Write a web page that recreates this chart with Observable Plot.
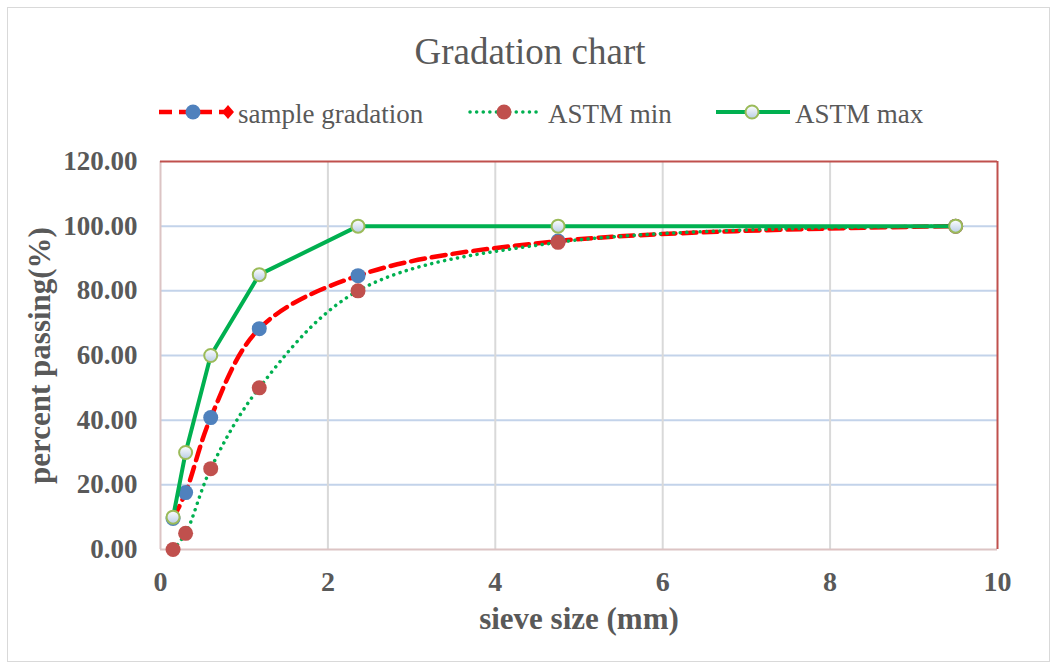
<!DOCTYPE html>
<html>
<head>
<meta charset="utf-8">
<script src="https://cdn.jsdelivr.net/npm/d3@7"></script>
<script src="https://cdn.jsdelivr.net/npm/@observablehq/plot@0.6"></script>
<style>
  body { margin: 0; background: #fff; }
  #wrap { position: relative; width: 1056px; height: 669px; color: #595959; overflow: hidden; }
  #border { position: absolute; left: 7px; top: 7px; width: 1043px; height: 655px; border: 1px solid #d9d9d9; box-sizing: border-box; pointer-events: none; z-index: 5; }
  #title { position: absolute; top: 33px; left: 0; width: 1060px; text-align: center; font-size: 37px; line-height: 37px; }
  .lg { position: absolute; top: 101px; font-size: 27px; line-height: 27px; white-space: nowrap; }
  .sw { position: absolute; top: 100px; }
  #chart { position: absolute; left: 0; top: 140px; }
</style>
</head>
<body>
<div id="wrap">
  <div id="border"></div>
  <div id="title"></div>
  <div id="legend"></div>
  <div id="chart"></div>
</div>
<script>
// ---- data ----
const title = "Gradation chart";
const seriesNames = ["sample gradation", "ASTM min", "ASTM max"];
const sieve = [0.15, 0.3, 0.6, 1.18, 2.36, 4.75, 9.5];
const sample = [9.6, 17.6, 40.8, 68.3, 84.7, 95.4, 100];
const astmMin = [0, 5, 25, 50, 80, 95, 100];
const astmMax = [10, 30, 60, 85, 100, 100, 100];
const xTicks = [0, 2, 4, 6, 8, 10];
const yTicks = [0, 20, 40, 60, 80, 100, 120];
const xLabel = "sieve size (mm)";
const yLabel = "percent passing(%)";

// ---- colours ----
const red = "#ff0000", green = "#00b050", blue = "#4f81bd", brick = "#c0504d", olive = "#9bbb59";
const font = '"Liberation Serif", "DejaVu Serif", serif';

document.getElementById("wrap").style.fontFamily = font;
const titleEl = document.getElementById("title");
titleEl.textContent = title;
titleEl.style.fontFamily = font;

// ---- legend (HTML) ----
const legend = document.getElementById("legend");
const items = [
  {left: 157, textLeft: 238, svg:
    `<svg width="80" height="24"><line x1="2" x2="74" y1="12" y2="12" stroke="${red}" stroke-width="4.5" stroke-dasharray="13 7"/>
     <circle cx="36" cy="12" r="7.5" fill="${blue}"/>
     <path d="M71,5 L77,12 L71,19 L65,12 Z" fill="${red}"/></svg>`},
  {left: 468, textLeft: 548, svg:
    `<svg width="76" height="24"><line x1="2" x2="72" y1="12" y2="12" stroke="${green}" stroke-width="3.5" stroke-linecap="round" stroke-dasharray="0.1 6.5"/>
     <circle cx="36" cy="12" r="7.5" fill="${brick}"/></svg>`},
  {left: 716, textLeft: 795, svg:
    `<svg width="76" height="24"><defs><linearGradient id="lgG" x1="0" y1="0" x2="0" y2="1"><stop offset="0" stop-color="#ffffff"/><stop offset="1" stop-color="#b9cde5"/></linearGradient></defs>
     <line x1="0" x2="74" y1="12" y2="12" stroke="${green}" stroke-width="4"/>
     <circle cx="36" cy="12" r="6.5" fill="url(#lgG)" stroke="${olive}" stroke-width="2"/></svg>`}
];
items.forEach((it, i) => {
  const s = document.createElement("div");
  s.className = "sw"; s.style.left = it.left + "px"; s.innerHTML = it.svg;
  legend.appendChild(s);
  const t = document.createElement("div");
  t.className = "lg"; t.style.left = it.textLeft + "px"; t.style.fontFamily = font;
  t.textContent = seriesNames[i];
  legend.appendChild(t);
});

// ---- chart ----
const chart = Plot.plot({
  width: 1056,
  height: 529,
  marginTop: 21,
  marginRight: 59,
  marginBottom: 120,
  marginLeft: 160,
  x: {domain: [0, 10]},
  y: {domain: [0, 120]},
  style: {fontFamily: font, background: "transparent", overflow: "visible"},
  marks: [
    Plot.ruleY(yTicks.filter(d => d > 0 && d < 120), {stroke: "#c3d3ea", strokeWidth: 2}),
    Plot.ruleX(xTicks.filter(d => d > 0 && d < 10), {stroke: "#d9d9d9", strokeWidth: 2}),
    Plot.ruleX([0], {stroke: "#dcc4c4", strokeWidth: 2}),
    Plot.ruleY([0], {stroke: "#dcc4c4", strokeWidth: 2}),
    Plot.ruleY([120], {stroke: brick, strokeWidth: 2}),
    Plot.ruleX([10], {stroke: brick, strokeWidth: 2}),
    Plot.axisX({ticks: xTicks, tickSize: 0, tickPadding: 22, fontSize: 28, fontWeight: "bold", color: "#595959", label: null}),
    Plot.axisY({ticks: yTicks, tickSize: 0, tickPadding: 23, tickFormat: d3.format(".2f"), fontSize: 27, fontWeight: "bold", color: "#595959", label: null}),
    Plot.text([xLabel], {text: d => d, frameAnchor: "bottom", textAnchor: "middle", dy: 79, fontSize: 31, fontWeight: "bold", fill: "#595959"}),
    Plot.text([yLabel], {text: d => d, frameAnchor: "left", textAnchor: "middle", dx: -120, rotate: -90, fontSize: 31, fontWeight: "bold", fill: "#595959"}),
    // sample gradation
    Plot.line(sample, {x: sieve, y: sample, curve: "catmull-rom", stroke: red, strokeWidth: 4.5, strokeDasharray: "14 7"}),
    Plot.dot(sample, {x: sieve, y: sample, r: 7.5, fill: blue}),
    // ASTM min
    Plot.line(astmMin, {x: sieve, y: astmMin, curve: "catmull-rom", stroke: green, strokeWidth: 3.5, strokeLinecap: "round", strokeDasharray: "0.1 6.5"}),
    Plot.dot(astmMin, {x: sieve, y: astmMin, r: 7.5, fill: brick}),
    // ASTM max
    Plot.line(astmMax, {x: sieve, y: astmMax, stroke: green, strokeWidth: 4}),
    Plot.dot(astmMax, {x: sieve, y: astmMax, r: 6.5, fill: "url(#maxGrad)", stroke: olive, strokeWidth: 2})
  ]
});
// gradient definition for the ASTM max markers
const ns = "http://www.w3.org/2000/svg";
const defs = document.createElementNS(ns, "defs");
defs.innerHTML = '<linearGradient id="maxGrad" x1="0" y1="0" x2="0" y2="1"><stop offset="0" stop-color="#ffffff"/><stop offset="1" stop-color="#b9cde5"/></linearGradient>';
chart.insertBefore(defs, chart.firstChild);
document.getElementById("chart").appendChild(chart);
</script>
</body>
</html>
